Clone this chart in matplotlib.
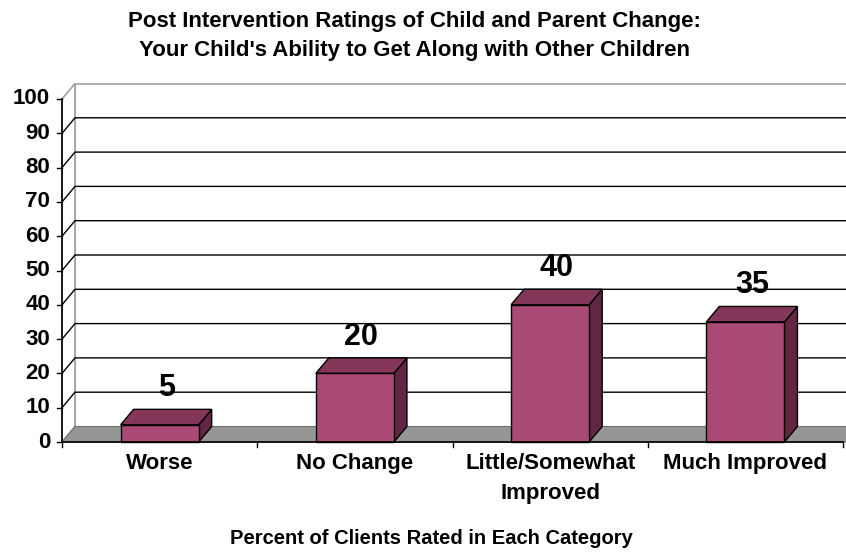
import matplotlib
matplotlib.use('Agg')
import numpy as np
import matplotlib.pyplot as plt
from matplotlib.patches import Polygon, Rectangle

plt.rcParams['font.family'] = ['Liberation Sans', 'DejaVu Sans']
plt.rcParams['font.weight'] = 'bold'

categories = ['Worse', 'No Change', 'Little/Somewhat\nImproved', 'Much Improved']
values = [5, 20, 40, 35]
yticks = [0, 10, 20, 30, 40, 50, 60, 70, 80, 90, 100]
title = "Post Intervention Ratings of Child and Parent Change:\nYour Child's Ability to Get Along with Other Children"
xlabel = 'Percent of Clients Rated in Each Category'

front_col = '#a94a74'
top_col = '#85375a'
side_col = '#632642'
floor_col = '#969696'
wall_edge = '#a0a0a0'

W, H = 846, 552
fig = plt.figure(figsize=(W / 100, H / 100), dpi=100)
# front plane of the plot: x 62..843 px, y 442 (0) .. 99 (100) px
ax = fig.add_axes([62 / W, (H - 442) / H, (843 - 62) / W, (442 - 99) / H])
n = len(categories)
ax.set_xlim(0, n)
ax.set_ylim(0, 100)
ax.axis('off')

# depth offset of the 3d box, in data units
px_x = (843 - 62) / n
px_y = (442 - 99) / 100
ddx = 13 / px_x
ddy = 15.5 / px_y
xr = n + ddx + 0.2

# back wall + left wall
ax.add_patch(Rectangle((ddx, ddy), xr - ddx, 100, facecolor='white', edgecolor=wall_edge,
                       lw=1.2, clip_on=False, zorder=1))
ax.add_patch(Polygon([(0, 0), (ddx, ddy), (ddx, 100 + ddy), (0, 100)], closed=True,
                     facecolor='white', edgecolor=wall_edge, lw=1.2, clip_on=False, zorder=1))
# grid lines
for t in yticks[1:-1]:
    ax.plot([0, ddx, xr], [t, t + ddy, t + ddy], color='black', lw=1.0, clip_on=False, zorder=2)
# floor
ax.add_patch(Polygon([(0, 0), (ddx, ddy), (xr, ddy), (xr, 0)], closed=True,
                     facecolor=floor_col, edgecolor='#707070', lw=0.8, clip_on=False, zorder=2))

# bars
bw = 0.4
for i, v in enumerate(values):
    x0 = i + 0.5 - bw / 2
    x1 = x0 + bw
    ax.add_patch(Polygon([(x1, 0), (x1 + ddx, ddy), (x1 + ddx, v + ddy), (x1, v)], closed=True,
                         facecolor=side_col, edgecolor='black', lw=1.0, zorder=4, clip_on=False))
    ax.add_patch(Polygon([(x0, v), (x0 + ddx, v + ddy), (x1 + ddx, v + ddy), (x1, v)], closed=True,
                         facecolor=top_col, edgecolor='black', lw=1.0, zorder=4, clip_on=False))
    ax.add_patch(Rectangle((x0, 0), bw, v, facecolor=front_col, edgecolor='black', lw=1.0,
                           zorder=5, clip_on=False))
    ax.text(i + 0.5 + ddx / 2, v + ddy + 21 / px_y, str(v), ha='center', va='center',
            fontsize=22, fontweight='bold', zorder=6)

# front axes lines and ticks
ax.plot([0, 0], [0, 100], color='black', lw=1.2, clip_on=False, zorder=6)
ax.plot([0, n], [0, 0], color='black', lw=1.2, clip_on=False, zorder=6)
tk_x = 5 / px_x
tk_y = 5 / px_y
for t in yticks:
    ax.plot([-tk_x, 0], [t, t], color='black', lw=1.0, clip_on=False, zorder=6)
    ax.text(-12 / px_x, t, str(t), ha='right', va='center', fontsize=16, fontweight='bold')
for k in range(n + 1):
    ax.plot([k, k], [0, -tk_y], color='black', lw=1.0, clip_on=False, zorder=6)
for i, c in enumerate(categories):
    ax.text(i + 0.5, -11 / px_y, c, ha='center', va='top', fontsize=16, fontweight='bold',
            linespacing=1.55)

fig.text(414 / W, 1 - 36 / H, title, ha='center', va='center', fontsize=16,
         fontweight='bold', linespacing=1.55)
fig.text(431 / W, 1 - 538 / H, xlabel, ha='center', va='center', fontsize=14.5, fontweight='bold')

fig.savefig('out.png', dpi=100)
